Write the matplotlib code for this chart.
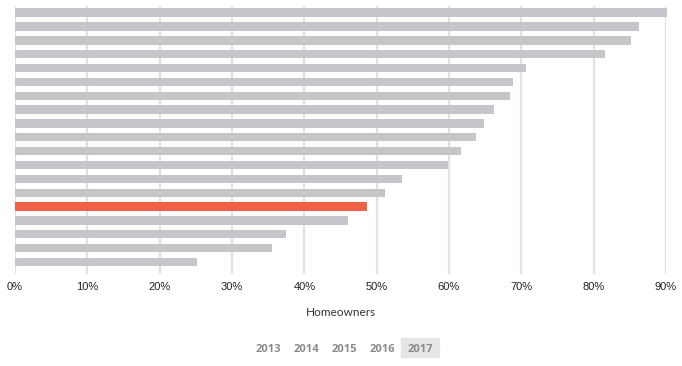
import matplotlib
matplotlib.use('Agg')
import matplotlib.pyplot as plt
from matplotlib.patches import Rectangle

# share of homeowners, top to bottom
values = [90.2, 86.3, 85.1, 81.5, 70.6, 68.8, 68.5, 66.2, 64.9, 63.8,
          61.6, 59.8, 53.5, 51.2, 48.7, 46.0, 37.5, 35.5, 25.2]
highlight = 14
xticks = [0, 10, 20, 30, 40, 50, 60, 70, 80, 90]
xlabels = [f'{t}%' for t in xticks]
years = ['2013', '2014', '2015', '2016', '2017']
active_year = '2017'

W, H = 682, 366
fig = plt.figure(figsize=(W / 100, H / 100), dpi=100)
ax = fig.add_axes([15 / W, (H - 274) / H, (666 - 15) / W, 268 / H])

colors = ['#ee6146' if i == highlight else '#c5c6c9' for i in range(len(values))]
ax.barh(range(len(values)), values, height=0.6, color=colors, zorder=2, clip_on=False)

ax.set_xlim(0, 90)
ax.set_ylim(len(values) - 1 + 0.87, -0.48)
ax.set_xticks(xticks)
ax.set_xticklabels(xlabels, fontsize=8, color='#222222', family='Liberation Sans')
ax.set_yticks([])
ax.tick_params(axis='x', length=0, pad=6)
ax.grid(axis='x', color='#e2e2e2', linewidth=1.6, zorder=0)
for s in ax.spines.values():
    s.set_visible(False)

fig.text(341 / W, 1 - 312 / H, 'Homeowners', ha='center', va='center',
         fontsize=8.5, color='#333333', family='Lato')

# year selector
xs = [268, 306, 344, 382, 420]
for yr, x in zip(years, xs):
    if yr == active_year:
        fig.patches.append(Rectangle(((x - 19) / W, 1 - 357 / H), 38 / W, 19 / H,
                                     transform=fig.transFigure, color='#e6e6e6', zorder=0))
    fig.text(x / W, 1 - 349 / H, yr, ha='center', va='center', fontsize=8,
             color='#8a8a8a', fontweight='bold', family='Open Sans')

fig.savefig('out.png', dpi=100)
